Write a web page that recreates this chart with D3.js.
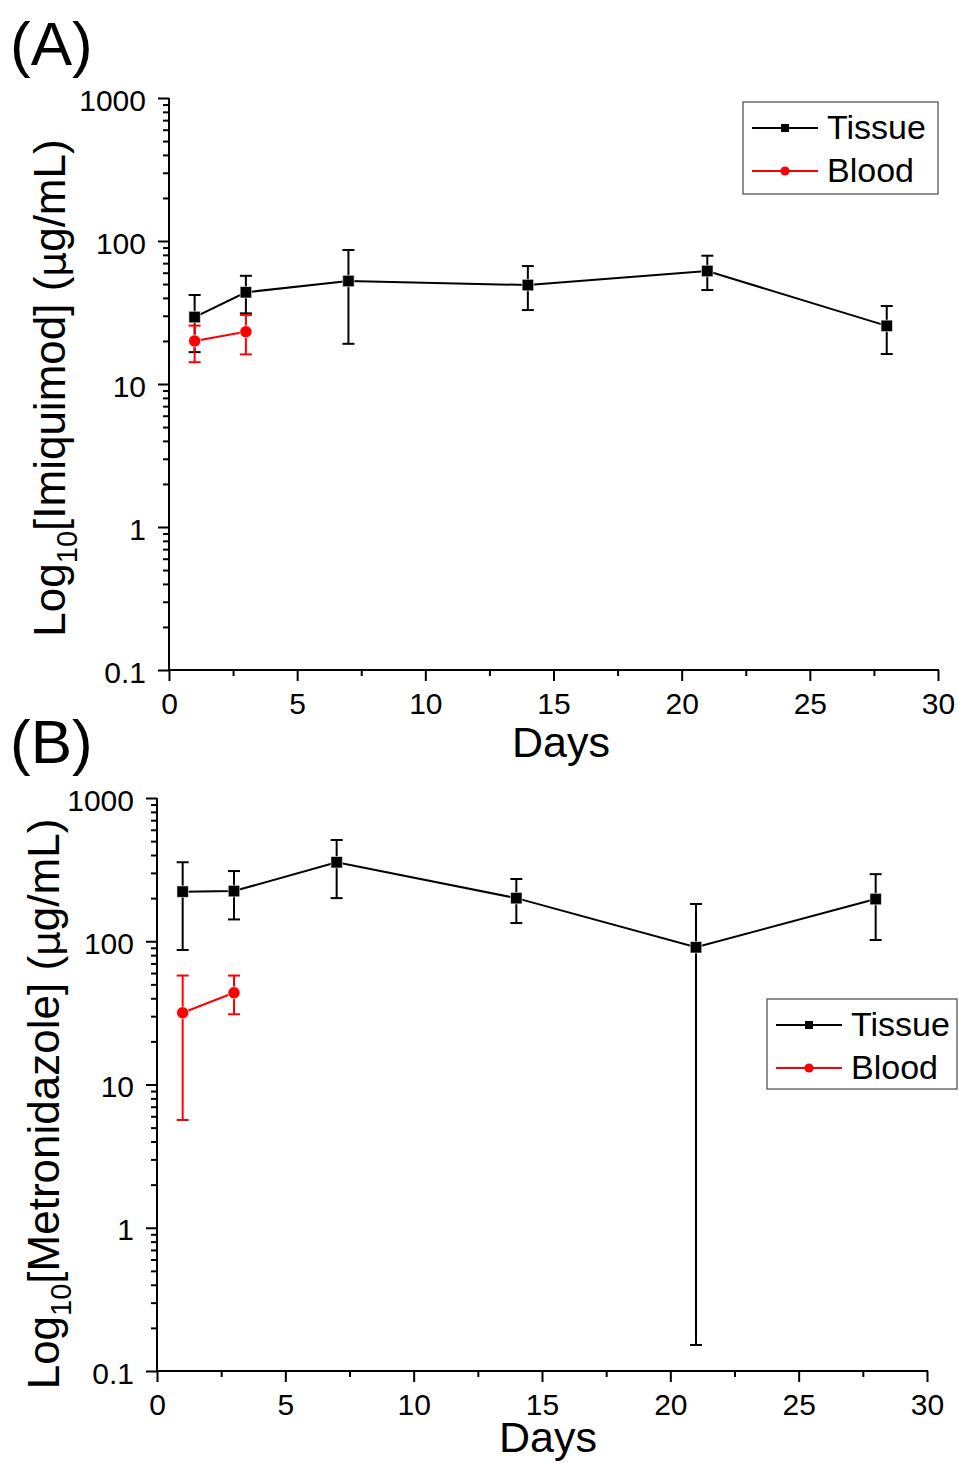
<!DOCTYPE html>
<html><head><meta charset="utf-8">
<script src="https://cdn.jsdelivr.net/npm/d3@7"></script>
<style>body{margin:0;background:#fff}svg{display:block}text{font-family:"Liberation Sans",Arial,sans-serif}</style>
</head><body>
<script>
const days = [1, 3, 7, 14, 21, 28];
const bloodDays = [1, 3];
const xTicks = [0, 5, 10, 15, 20, 25, 30];
const yTicks = [0.1, 1, 10, 100, 1000];
const yTickLabels = ["0.1", "1", "10", "100", "1000"];

// Panel A: Imiquimod
const imiTissue = [29.4, 43.8, 52.5, 49.2, 61.7, 25.5];
const imiTissueHi = [41.9, 57.1, 86.5, 66.8, 78.9, 35.1];
const imiTissueLo = [16.7, 31.2, 19.1, 32.9, 45.4, 16.2];
const imiBlood = [20.0, 23.2];
const imiBloodHi = [25.6, 30.4];
const imiBloodLo = [14.2, 16.1];

// Panel B: Metronidazole
const metTissue = [222, 224, 356, 200, 90.8, 197];
const metTissueHi = [356, 309, 509, 272, 182, 294];
const metTissueLo = [86.9, 142, 200, 134, 0.152, 102];
const metBlood = [31.7, 43.7];
const metBloodHi = [57.6, 57.6];
const metBloodLo = [5.65, 30.9];

const W = 958, H = 1463;
const svg = d3.select("body").append("svg").attr("width", W).attr("height", H);

function panel(cfg) {
  const x = d3.scaleLinear().domain([0, 30]).range([cfg.x0, cfg.x1]);
  const y = d3.scaleLog().domain([0.1, 1000]).range([cfg.y0, cfg.y1]);
  const g = svg.append("g");

  g.append("text").attr("x", 10).attr("y", cfg.letterY).attr("font-size", 62).text(cfg.letter);

  // y axis
  const minor = [];
  for (let d = -1; d < 3; d++) for (let k = 2; k <= 9; k++) minor.push(k * Math.pow(10, d));
  g.append("g").attr("transform", `translate(${cfg.x0},0)`)
    .call(d3.axisLeft(y).tickValues(minor).tickSize(6).tickFormat(""))
    .call(s => s.select(".domain").remove())
    .call(s => s.selectAll("line").attr("stroke-width", 2));
  g.append("g").attr("transform", `translate(${cfg.x0},0)`)
    .call(d3.axisLeft(y).tickValues(yTicks).tickSize(11).tickPadding(12)
      .tickFormat((d, i) => yTickLabels[i]))
    .call(s => s.select(".domain").attr("stroke-width", 2).attr("d", `M0,${cfg.y0}V${cfg.y1}`))
    .call(s => s.selectAll("line").attr("stroke-width", 2))
    .call(s => s.selectAll("text").attr("font-size", 30).attr("font-family", "Liberation Sans")
      .attr("fill", "#000").attr("dy", "0.4em"));

  // x axis
  g.append("g").attr("transform", `translate(0,${cfg.y0})`)
    .call(d3.axisBottom(x).tickValues(d3.range(2.5, 30, 5)).tickSize(6).tickFormat(""))
    .call(s => s.select(".domain").remove())
    .call(s => s.selectAll("line").attr("stroke-width", 2));
  g.append("g").attr("transform", `translate(0,${cfg.y0})`)
    .call(d3.axisBottom(x).tickValues(xTicks).tickSize(11).tickPadding(12).tickFormat(d3.format("d")))
    .call(s => s.select(".domain").attr("stroke-width", 2).attr("d", `M${cfg.x0},0H${cfg.x1 + 1}`))
    .call(s => s.selectAll("line").attr("stroke-width", 2))
    .call(s => s.selectAll("text").attr("font-size", 30).attr("font-family", "Liberation Sans").attr("fill", "#000"));

  // axis titles
  g.append("text").attr("x", cfg.xTitleX).attr("y", cfg.xTitleY).attr("text-anchor", "middle")
    .attr("font-size", 43).text("Days");
  const yt = g.append("text").attr("transform", `translate(${cfg.yTitleX},${cfg.yTitleY}) rotate(-90)`)
    .attr("text-anchor", "middle").attr("font-size", 44);
  yt.append("tspan").text("Log");
  yt.append("tspan").attr("font-size", 29).attr("dy", 12).text("10");
  yt.append("tspan").attr("dy", -12).text(cfg.drug + " (");
  yt.append("tspan").attr("font-family", "DejaVu Sans").attr("font-size", 39).text("μ");
  yt.append("tspan").text("g/mL)");

  function series(xs, vals, hi, lo, color, shape) {
    const sg = g.append("g");
    const line = d3.line().x((d, i) => x(xs[i])).y(d => y(d));
    sg.append("path").datum(vals).attr("d", line).attr("fill", "none")
      .attr("stroke", color).attr("stroke-width", 2);
    const cap = 6;
    xs.forEach((d, i) => {
      const cx = x(d);
      sg.append("line").attr("x1", cx).attr("x2", cx).attr("y1", y(hi[i])).attr("y2", y(lo[i]))
        .attr("stroke", color).attr("stroke-width", 2);
      [hi[i], lo[i]].forEach(v => sg.append("line").attr("x1", cx - cap).attr("x2", cx + cap)
        .attr("y1", y(v)).attr("y2", y(v)).attr("stroke", color).attr("stroke-width", 2));
    });
    const sym = d3.symbol().type(shape === "square" ? d3.symbolSquare : d3.symbolCircle)
      .size(shape === "square" ? 132 : 115);
    sg.selectAll(".m").data(vals).join("path")
      .attr("transform", (d, i) => `translate(${x(xs[i])},${y(d)})`)
      .attr("d", sym).attr("fill", color).attr("stroke", "#fff").attr("stroke-width", 0.6);
  }
  series(days, cfg.tissue, cfg.tissueHi, cfg.tissueLo, "#000", "square");
  series(bloodDays, cfg.blood, cfg.bloodHi, cfg.bloodLo, "#f00", "circle");

  const L = cfg.legend;
  const lg = g.append("g");
  lg.append("rect").attr("x", L.x).attr("y", L.y).attr("width", L.w).attr("height", L.h)
    .attr("fill", "#fff").attr("stroke", "#555").attr("stroke-width", 1.3);
  [["Tissue", "#000", d3.symbolSquare, 64], ["Blood", "#f00", d3.symbolCircle, 64]].forEach((e, i) => {
    const ly = L.y + 26 + i * 43;
    lg.append("line").attr("x1", L.x + 9).attr("x2", L.x + 75).attr("y1", ly).attr("y2", ly)
      .attr("stroke", e[1]).attr("stroke-width", 1.8);
    lg.append("path").attr("transform", `translate(${L.x + 42},${ly})`)
      .attr("d", d3.symbol().type(e[2]).size(e[3])()).attr("fill", e[1]);
    lg.append("text").attr("x", L.x + 84).attr("y", ly + 11).attr("font-size", 34).text(e[0]);
  });
}

panel({
  letter: "(A)", letterY: 65,
  x0: 169, x1: 938, y0: 670, y1: 98,
  xTitleX: 561, xTitleY: 757, yTitleX: 65, yTitleY: 388,
  drug: "[Imiquimod]",
  tissue: imiTissue, tissueHi: imiTissueHi, tissueLo: imiTissueLo,
  blood: imiBlood, bloodHi: imiBloodHi, bloodLo: imiBloodLo,
  legend: { x: 743, y: 102, w: 195, h: 92 }
});
panel({
  letter: "(B)", letterY: 763,
  x0: 157, x1: 927, y0: 1371, y1: 798,
  xTitleX: 548, xTitleY: 1452, yTitleX: 59, yTitleY: 1104,
  drug: "[Metronidazole]",
  tissue: metTissue, tissueHi: metTissueHi, tissueLo: metTissueLo,
  blood: metBlood, bloodHi: metBloodHi, bloodLo: metBloodLo,
  legend: { x: 767, y: 999, w: 190, h: 90 }
});
</script>
</body></html>
